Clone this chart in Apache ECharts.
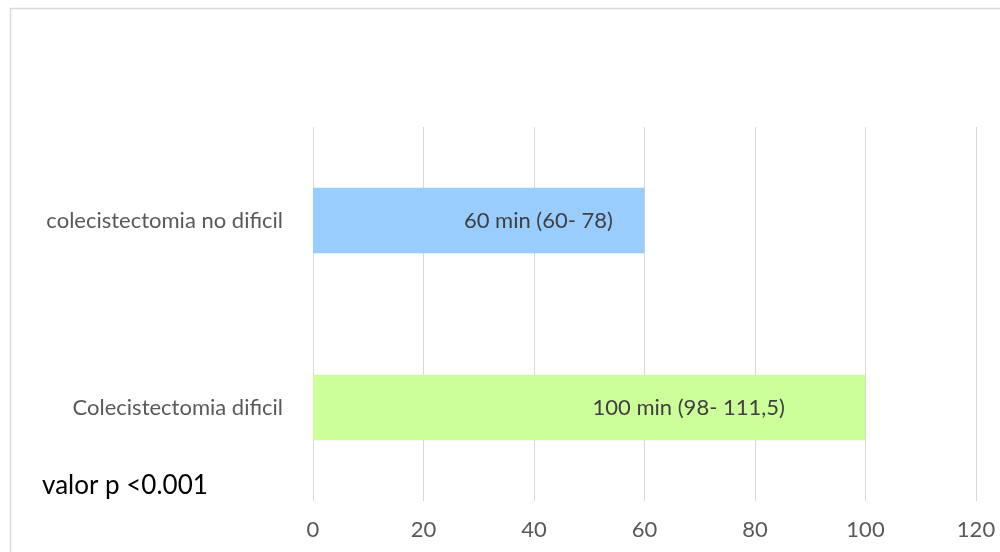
<!DOCTYPE html>
<html>
<head>
<meta charset="utf-8">
<script src="https://cdn.jsdelivr.net/npm/echarts@6/dist/echarts.min.js"></script>
<style>
  html, body { margin: 0; padding: 0; background: #fff; }
  #chart { width: 1000px; height: 552px; }
</style>
</head>
<body>
<div id="chart"></div>
<script>
// Categories listed bottom to top on the vertical axis
const categories = ['Colecistectomia dificil', 'colecistectomia no dificil'];
// Median operating time (minutes)
const medianMinutes = [100, 60];
// Text shown on each bar
const barLabels = ['100 min (98- 111,5)', '60 min (60- 78)'];
const barColors = ['#CCFF99', '#99CCFF'];
const xTicks = { min: 0, max: 120, interval: 20 };
const note = 'valor p <0.001';

const FONT = 'Lato';
const chart = echarts.init(document.getElementById('chart'), null, { renderer: 'canvas' });

chart.setOption({
  backgroundColor: '#ffffff',
  animation: false,
  grid: { left: 313, right: 24, top: 127, bottom: 51 },
  xAxis: {
    type: 'value',
    min: xTicks.min,
    max: xTicks.max,
    interval: xTicks.interval,
    axisLine: { show: false },
    axisTick: { show: false },
    splitLine: { show: true, lineStyle: { color: '#d9d9d9', width: 1 } },
    axisLabel: { color: '#595959', fontFamily: FONT, fontSize: 22, margin: 18 }
  },
  yAxis: {
    type: 'category',
    data: categories,
    axisLine: { show: false },
    axisTick: { show: false },
    axisLabel: { color: '#595959', fontFamily: FONT, fontSize: 22, margin: 30 }
  },
  series: [{
    type: 'bar',
    barWidth: '35%',
    data: medianMinutes.map((v, i) => ({
      value: v,
      itemStyle: { color: barColors[i] },
      label: { formatter: barLabels[i] }
    })),
    label: {
      show: true,
      position: ['68%', '50%'],
      align: 'center',
      verticalAlign: 'middle',
      color: '#404040',
      fontFamily: FONT,
      fontSize: 22
    }
  }],
  graphic: [
    {
      type: 'rect',
      shape: { x: 10.5, y: 8.5, width: 1000, height: 600 },
      style: { fill: null, stroke: '#d9d9d9', lineWidth: 1.5 },
      silent: true
    },
    {
      type: 'text',
      left: 42,
      top: 473,
      style: { text: note, fill: '#000000', font: '26px Lato' }
    }
  ]
});
</script>
</body>
</html>
